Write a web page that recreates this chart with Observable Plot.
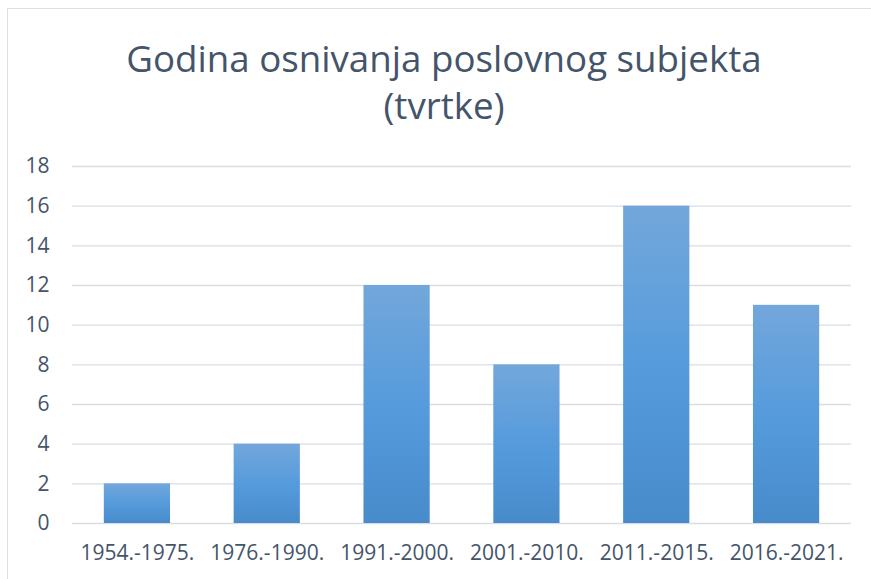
<!DOCTYPE html>
<html>
<head>
<meta charset="utf-8">
<script src="https://cdn.jsdelivr.net/npm/d3@7"></script>
<script src="https://cdn.jsdelivr.net/npm/@observablehq/plot@0.6"></script>
<style>
  html, body { margin: 0; padding: 0; background: #fff; overflow: hidden; }
  #wrap { position: relative; width: 871px; height: 579px; }
  #border { position: absolute; left: 7px; top: 8px; width: 900px; height: 600px; border: 1px solid #dcdfe4; box-sizing: border-box; pointer-events: none; }
  #chart { position: absolute; left: 0; top: 0; }
</style>
</head>
<body>
<div id="wrap"><div id="border"></div><div id="chart"></div></div>
<script>
const titleLines = ["Godina osnivanja poslovnog subjekta", "(tvrtke)"];
const categories = ["1954.-1975.", "1976.-1990.", "1991.-2000.", "2001.-2010.", "2011.-2015.", "2016.-2021."];
const counts = [2, 4, 12, 8, 16, 11];
const yTicks = [0, 2, 4, 6, 8, 10, 12, 14, 16, 18];

const data = categories.map((c, i) => ({category: c, count: counts[i]}));
const textColor = "#44546a";
const fontFamily = "'Open Sans', 'Noto Sans', sans-serif";

function gradientDefs() {
  const ns = "http://www.w3.org/2000/svg";
  const defs = document.createElementNS(ns, "defs");
  const lg = document.createElementNS(ns, "linearGradient");
  lg.setAttribute("id", "barGrad");
  lg.setAttribute("x1", "0"); lg.setAttribute("y1", "0");
  lg.setAttribute("x2", "0"); lg.setAttribute("y2", "1");
  [["0", "#73a7db"], ["0.5", "#569bdc"], ["1", "#478bcb"]].forEach(([o, c]) => {
    const s = document.createElementNS(ns, "stop");
    s.setAttribute("offset", o);
    s.setAttribute("stop-color", c);
    lg.appendChild(s);
  });
  defs.appendChild(lg);
  return defs;
}

const chart = Plot.plot({
  width: 871,
  height: 579,
  marginTop: 166,
  marginBottom: 56,
  marginLeft: 72,
  marginRight: 20,
  style: {fontFamily, color: textColor, background: "transparent"},
  x: {domain: categories, paddingInner: 0.49, paddingOuter: 0.245, round: false, label: null},
  y: {domain: [0, 18], label: null},
  marks: [
    gradientDefs,
    Plot.gridY(yTicks, {stroke: "#d9dde3", strokeOpacity: 1, strokeWidth: 1.3}),
    Plot.barY(data, {x: "category", y: "count", fill: "url(#barGrad)"}),
    Plot.axisY(yTicks, {tickSize: 0, tickPadding: 23, fontSize: 21, fill: textColor, label: null}),
    Plot.axisX({tickSize: 0, tickPadding: 22, fontSize: 21, fill: textColor, label: null}),
    Plot.text([titleLines[0]], {frameAnchor: "top", text: d => d, dx: -18, dy: -95, fontSize: 36.7, fill: textColor, lineAnchor: "bottom"}),
    Plot.text([titleLines[1]], {frameAnchor: "top", text: d => d, dx: -18, dy: -48, fontSize: 36.7, fill: textColor, lineAnchor: "bottom"})
  ]
});
document.getElementById("chart").appendChild(chart);
</script>
</body>
</html>
